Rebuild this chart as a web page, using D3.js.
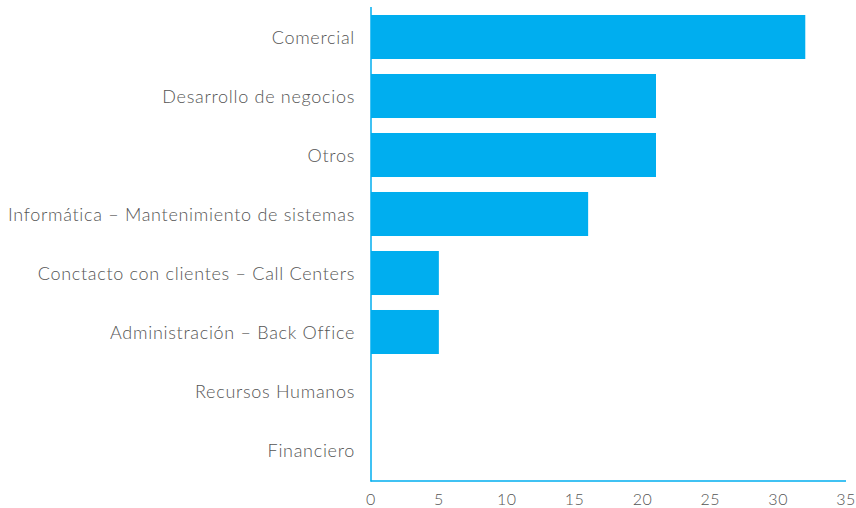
<!DOCTYPE html>
<html><head><meta charset="utf-8">
<script src="https://cdn.jsdelivr.net/npm/d3@7"></script>
<style>
body{margin:0;background:#fff;}
text{font-family:Lato,"Open Sans",sans-serif;font-weight:300;}
</style></head>
<body><svg id="c" width="856" height="508"></svg>
<script>
const categories = ["Comercial","Desarrollo de negocios","Otros","Informática – Mantenimiento de sistemas","Conctacto con clientes – Call Centers","Administración – Back Office","Recursos Humanos","Financiero"];
const values = [32,21,21,16,5,5,0,0];
const ticks = [0,5,10,15,20,25,30,35];

const svg = d3.select("#c");
const x = d3.scaleLinear().domain([0,35]).range([371,846]);
const y = d3.scaleBand().domain(categories).range([7.5,479.5]).paddingInner(0.254).paddingOuter(0.127);
const blue = "#00AEEF";

svg.selectAll("rect.bar").data(categories).join("rect")
  .attr("x", x(0)).attr("y", d=>y(d))
  .attr("width", (d,i)=>Math.max(0,x(values[i])-x(0)))
  .attr("height", y.bandwidth()).attr("fill", blue);

svg.append("line").attr("x1",371).attr("x2",371).attr("y1",7).attr("y2",481.5)
  .attr("stroke",blue).attr("stroke-width",1.5);
svg.append("line").attr("x1",370.5).attr("x2",846).attr("y1",481).attr("y2",481)
  .attr("stroke",blue).attr("stroke-width",1.5);

svg.selectAll("text.cat").data(categories).join("text")
  .attr("x",355).attr("y",d=>y(d)+y.bandwidth()/2)
  .attr("text-anchor","end").attr("dominant-baseline","central")
  .attr("font-size",18).attr("letter-spacing",0.7).attr("fill","#555").text(d=>d);

svg.selectAll("text.tick").data(ticks).join("text")
  .attr("x",d=>x(d)).attr("y",498)
  .attr("text-anchor","middle").attr("dominant-baseline","central")
  .attr("font-size",16).attr("letter-spacing",0.5).attr("fill","#555").text(d=>d);
</script></body></html>
